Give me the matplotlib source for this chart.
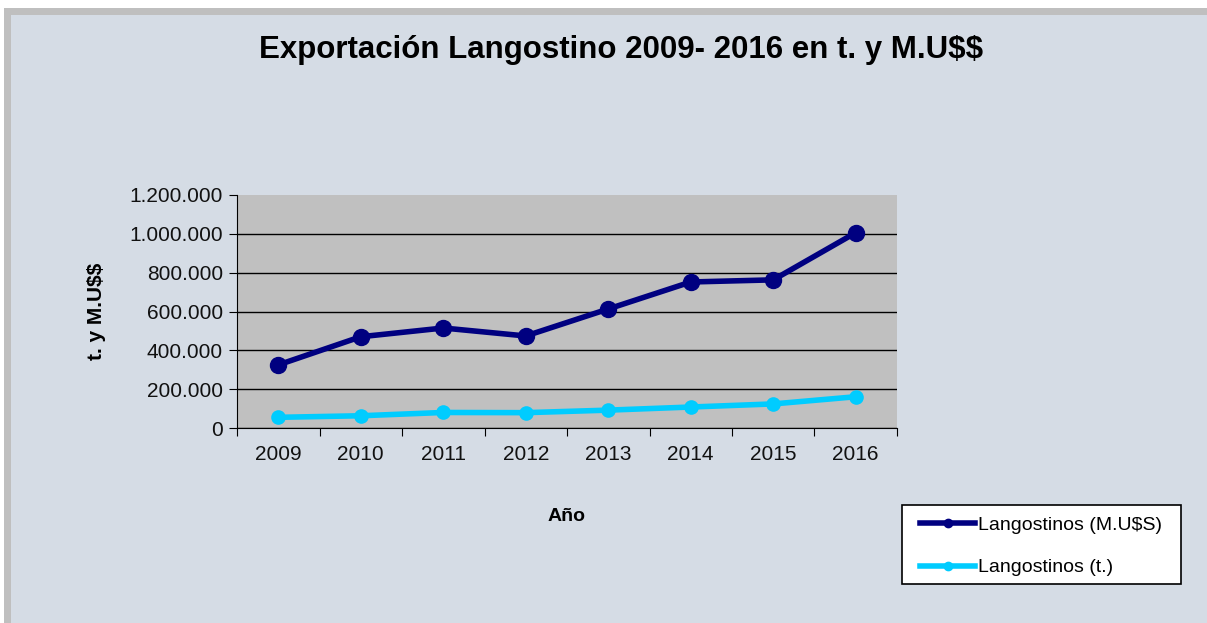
import matplotlib
matplotlib.use('Agg')
import matplotlib.pyplot as plt
from matplotlib.patches import Rectangle
from matplotlib.lines import Line2D
from matplotlib.ticker import FuncFormatter

# data
years = ['2009', '2010', '2011', '2012', '2013', '2014', '2015', '2016']
valor_musd = [325000, 470000, 515000, 474000, 613000, 752000, 763000, 1006000]
toneladas = [55000, 63000, 80000, 79000, 92000, 108000, 124000, 161000]
y_ticks = [0, 200000, 400000, 600000, 800000, 1000000, 1200000]

navy = '#000080'
cyan = '#00CCFF'
bg = '#D5DCE5'

plt.rcParams['font.family'] = ['Liberation Sans', 'DejaVu Sans']
plt.rcParams['text.parse_math'] = False

W, H = 1207, 623
fig = plt.figure(figsize=(W / 100, H / 100), dpi=100, facecolor='white')

# grey frame and light blue chart area
fig.patches.append(Rectangle((4 / W, 0), 1.1, (H - 8) / H, transform=fig.transFigure,
                             facecolor='#BFBFBF', edgecolor='none', zorder=-2))
fig.patches.append(Rectangle((11 / W, 0), 1.1, (H - 15) / H, transform=fig.transFigure,
                             facecolor=bg, edgecolor='none', zorder=-1))

ax = fig.add_axes([237 / W, 195 / H, 660 / W, 233 / H])
ax.set_facecolor('#C0C0C0')

x = list(range(len(years)))
ax.plot(x, valor_musd, color=navy, lw=4, marker='o', markersize=11.5, zorder=3)
ax.plot(x, toneladas, color=cyan, lw=4, marker='o', markersize=9.5, zorder=3)

ax.set_xlim(-0.5, len(years) - 0.5)
ax.set_ylim(0, 1200000)

# category boundaries as ticks, labels at centers
ax.set_xticks([i - 0.5 for i in range(len(years) + 1)])
ax.set_xticklabels([])
ax.set_xticks(x, minor=True)
ax.set_xticklabels(years, minor=True)
ax.tick_params(axis='x', which='major', length=6, direction='out', color='black')
ax.tick_params(axis='x', which='minor', length=0, pad=12, labelsize=15, labelcolor='#111111')

ax.set_yticks(y_ticks)
ax.yaxis.set_major_formatter(FuncFormatter(lambda v, p: f'{int(v):,}'.replace(',', '.')))
ax.tick_params(axis='y', length=6, direction='out', labelsize=15, labelcolor='#111111', pad=4)

ax.grid(axis='y', color='black', lw=1)
ax.yaxis.get_gridlines()[-1].set_visible(False)
ax.set_axisbelow(True)

for s in ['top', 'right']:
    ax.spines[s].set_visible(False)
ax.spines['left'].set_color('black')
ax.spines['bottom'].set_color('black')

ax.set_xlabel('Año', fontsize=14, fontweight='bold', labelpad=32)
ax.set_ylabel('t. y M.U$$', fontsize=15, fontweight='bold', labelpad=17)

fig.text(621 / W, 1 - 50 / H, 'Exportación Langostino 2009- 2016 en t. y M.U$$',
         ha='center', va='center', fontsize=22.5, fontweight='bold')

# legend box drawn as a patch, legend entries placed inside it
fig.patches.append(Rectangle((902 / W, 1 - 584 / H), 279 / W, 79 / H, transform=fig.transFigure,
                             facecolor='white', edgecolor='black', lw=1.2, zorder=1))
handles = [Line2D([0], [0], color=navy, lw=4, marker='o', markersize=6, label='Langostinos (M.U$S)'),
           Line2D([0], [0], color=cyan, lw=4, marker='o', markersize=6, label='Langostinos (t.)')]
leg = fig.legend(handles=handles, loc='upper left', bbox_to_anchor=(920 / W, 1 - 516 / H),
                 frameon=False, fontsize=14, handlelength=2.85, borderpad=0, borderaxespad=0,
                 handletextpad=0.15, labelspacing=1.3)

fig.savefig('out.png', dpi=100, facecolor=fig.get_facecolor())
